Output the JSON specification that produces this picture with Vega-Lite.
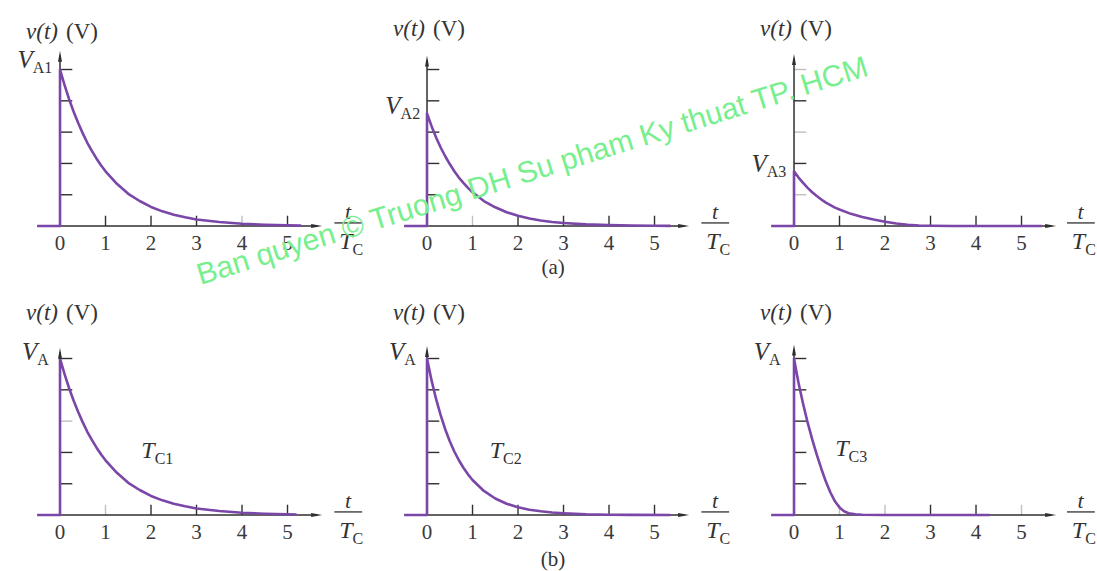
{
  "$schema": "https://vega.github.io/schema/vega-lite/v6.json",
  "padding": 0,
  "autosize": {"type": "pad"},
  "background": "white",
  "config": {"view": {"stroke": null}},
  "data": {
    "values": [
      {"r":"a","c":1,"k":"ax","x":-0.5,"x2":5.66,"y":0,"y2":0},
      {"r":"a","c":1,"k":"ax","x":0,"x2":0,"y":0,"y2":5.45},
      {"r":"a","c":1,"k":"ar","x":5.64,"y":0},
      {"r":"a","c":1,"k":"au","x":0,"y":5.42},
      {"r":"a","c":1,"k":"xt","x":0,"tk":"none"},
      {"r":"a","c":1,"k":"xt","x":1,"tk":"full"},
      {"r":"a","c":1,"k":"xt","x":2,"tk":"full"},
      {"r":"a","c":1,"k":"xt","x":3,"tk":"full"},
      {"r":"a","c":1,"k":"xt","x":4,"tk":"faint"},
      {"r":"a","c":1,"k":"xt","x":5,"tk":"full"},
      {"r":"a","c":1,"k":"yt","y":1,"tk":"full"},
      {"r":"a","c":1,"k":"yt","y":2,"tk":"full"},
      {"r":"a","c":1,"k":"yt","y":3,"tk":"full"},
      {"r":"a","c":1,"k":"yt","y":4,"tk":"full"},
      {"r":"a","c":1,"k":"yt","y":5,"tk":"full"},
      {"r":"a","c":1,"k":"vt","x":0,"y":6.2},
      {"r":"a","c":1,"k":"V","x":-0.6,"y":5.3,"s":"A1"},
      {"r":"a","c":1,"k":"t","x":6.33,"y":0.45},
      {"r":"a","c":1,"k":"fl","x":6.03,"x2":6.64,"y":0.1},
      {"r":"a","c":1,"k":"T","x":6.43,"y":-0.5,"s":"C"},
      {"r":"a","c":1,"k":"c","i":0,"x":-0.5,"y":0},
      {"r":"a","c":1,"k":"c","i":1,"x":0,"y":0},
      {"r":"a","c":1,"k":"c","i":2,"x":0,"y":5.0},
      {"r":"a","c":1,"k":"c","i":3,"x":0.1,"y":4.5},
      {"r":"a","c":1,"k":"c","i":4,"x":0.2,"y":4.05},
      {"r":"a","c":1,"k":"c","i":5,"x":0.3,"y":3.65},
      {"r":"a","c":1,"k":"c","i":6,"x":0.4,"y":3.29},
      {"r":"a","c":1,"k":"c","i":7,"x":0.5,"y":2.96},
      {"r":"a","c":1,"k":"c","i":8,"x":0.6,"y":2.66},
      {"r":"a","c":1,"k":"c","i":9,"x":0.7,"y":2.4},
      {"r":"a","c":1,"k":"c","i":10,"x":0.8,"y":2.16},
      {"r":"a","c":1,"k":"c","i":11,"x":0.9,"y":1.94},
      {"r":"a","c":1,"k":"c","i":12,"x":1.0,"y":1.75},
      {"r":"a","c":1,"k":"c","i":13,"x":1.25,"y":1.35},
      {"r":"a","c":1,"k":"c","i":14,"x":1.5,"y":1.03},
      {"r":"a","c":1,"k":"c","i":15,"x":1.75,"y":0.8},
      {"r":"a","c":1,"k":"c","i":16,"x":2.0,"y":0.61},
      {"r":"a","c":1,"k":"c","i":17,"x":2.25,"y":0.47},
      {"r":"a","c":1,"k":"c","i":18,"x":2.5,"y":0.36},
      {"r":"a","c":1,"k":"c","i":19,"x":2.75,"y":0.28},
      {"r":"a","c":1,"k":"c","i":20,"x":3.0,"y":0.21},
      {"r":"a","c":1,"k":"c","i":21,"x":3.5,"y":0.13},
      {"r":"a","c":1,"k":"c","i":22,"x":4.0,"y":0.075},
      {"r":"a","c":1,"k":"c","i":23,"x":4.5,"y":0.044},
      {"r":"a","c":1,"k":"c","i":24,"x":5.0,"y":0.026},
      {"r":"a","c":1,"k":"c","i":25,"x":5.3,"y":0.015},

      {"r":"a","c":2,"k":"ax","x":-0.5,"x2":5.66,"y":0,"y2":0},
      {"r":"a","c":2,"k":"ax","x":0,"x2":0,"y":0,"y2":5.3},
      {"r":"a","c":2,"k":"ar","x":5.64,"y":0},
      {"r":"a","c":2,"k":"au","x":0,"y":5.27},
      {"r":"a","c":2,"k":"xt","x":0,"tk":"none"},
      {"r":"a","c":2,"k":"xt","x":1,"tk":"faint"},
      {"r":"a","c":2,"k":"xt","x":2,"tk":"full"},
      {"r":"a","c":2,"k":"xt","x":3,"tk":"full"},
      {"r":"a","c":2,"k":"xt","x":4,"tk":"full"},
      {"r":"a","c":2,"k":"xt","x":5,"tk":"full"},
      {"r":"a","c":2,"k":"yt","y":1,"tk":"full"},
      {"r":"a","c":2,"k":"yt","y":2,"tk":"full"},
      {"r":"a","c":2,"k":"yt","y":3,"tk":"full"},
      {"r":"a","c":2,"k":"yt","y":4,"tk":"full"},
      {"r":"a","c":2,"k":"yt","y":5,"tk":"full"},
      {"r":"a","c":2,"k":"vt","x":0,"y":6.3},
      {"r":"a","c":2,"k":"V","x":-0.58,"y":3.84,"s":"A2"},
      {"r":"a","c":2,"k":"t","x":6.33,"y":0.45},
      {"r":"a","c":2,"k":"fl","x":6.03,"x2":6.64,"y":0.1},
      {"r":"a","c":2,"k":"T","x":6.43,"y":-0.5,"s":"C"},
      {"r":"a","c":2,"k":"cap","x":2.77,"y":-1.34,"s":"(a)"},
      {"r":"a","c":2,"k":"c","i":0,"x":-0.5,"y":0},
      {"r":"a","c":2,"k":"c","i":1,"x":0,"y":0},
      {"r":"a","c":2,"k":"c","i":2,"x":0,"y":3.6},
      {"r":"a","c":2,"k":"c","i":3,"x":0.1,"y":3.19},
      {"r":"a","c":2,"k":"c","i":4,"x":0.2,"y":2.83},
      {"r":"a","c":2,"k":"c","i":5,"x":0.3,"y":2.51},
      {"r":"a","c":2,"k":"c","i":6,"x":0.4,"y":2.23},
      {"r":"a","c":2,"k":"c","i":7,"x":0.5,"y":1.98},
      {"r":"a","c":2,"k":"c","i":8,"x":0.6,"y":1.75},
      {"r":"a","c":2,"k":"c","i":9,"x":0.7,"y":1.55},
      {"r":"a","c":2,"k":"c","i":10,"x":0.8,"y":1.38},
      {"r":"a","c":2,"k":"c","i":11,"x":0.9,"y":1.22},
      {"r":"a","c":2,"k":"c","i":12,"x":1.0,"y":1.08},
      {"r":"a","c":2,"k":"c","i":13,"x":1.25,"y":0.8},
      {"r":"a","c":2,"k":"c","i":14,"x":1.5,"y":0.6},
      {"r":"a","c":2,"k":"c","i":15,"x":1.75,"y":0.44},
      {"r":"a","c":2,"k":"c","i":16,"x":2.0,"y":0.33},
      {"r":"a","c":2,"k":"c","i":17,"x":2.25,"y":0.24},
      {"r":"a","c":2,"k":"c","i":18,"x":2.5,"y":0.18},
      {"r":"a","c":2,"k":"c","i":19,"x":2.75,"y":0.13},
      {"r":"a","c":2,"k":"c","i":20,"x":3.0,"y":0.1},
      {"r":"a","c":2,"k":"c","i":21,"x":3.5,"y":0.054},
      {"r":"a","c":2,"k":"c","i":22,"x":4.0,"y":0.03},
      {"r":"a","c":2,"k":"c","i":23,"x":4.5,"y":0.016},
      {"r":"a","c":2,"k":"c","i":24,"x":5.0,"y":0.009},
      {"r":"a","c":2,"k":"c","i":25,"x":5.35,"y":0.005},

      {"r":"a","c":3,"k":"ax","x":-0.5,"x2":5.66,"y":0,"y2":0},
      {"r":"a","c":3,"k":"ax","x":0,"x2":0,"y":0,"y2":5.35},
      {"r":"a","c":3,"k":"ar","x":5.64,"y":0},
      {"r":"a","c":3,"k":"au","x":0,"y":5.32},
      {"r":"a","c":3,"k":"xt","x":0,"tk":"none"},
      {"r":"a","c":3,"k":"xt","x":1,"tk":"full"},
      {"r":"a","c":3,"k":"xt","x":2,"tk":"full"},
      {"r":"a","c":3,"k":"xt","x":3,"tk":"full"},
      {"r":"a","c":3,"k":"xt","x":4,"tk":"full"},
      {"r":"a","c":3,"k":"xt","x":5,"tk":"full"},
      {"r":"a","c":3,"k":"yt","y":1,"tk":"faint"},
      {"r":"a","c":3,"k":"yt","y":2,"tk":"full"},
      {"r":"a","c":3,"k":"yt","y":3,"tk":"faint"},
      {"r":"a","c":3,"k":"yt","y":4,"tk":"full"},
      {"r":"a","c":3,"k":"yt","y":5,"tk":"faint"},
      {"r":"a","c":3,"k":"vt","x":0,"y":6.3},
      {"r":"a","c":3,"k":"V","x":-0.6,"y":1.97,"s":"A3"},
      {"r":"a","c":3,"k":"t","x":6.3,"y":0.45},
      {"r":"a","c":3,"k":"fl","x":6.0,"x2":6.61,"y":0.1},
      {"r":"a","c":3,"k":"T","x":6.4,"y":-0.5,"s":"C"},
      {"r":"a","c":3,"k":"c","i":0,"x":-0.5,"y":0},
      {"r":"a","c":3,"k":"c","i":1,"x":0,"y":0},
      {"r":"a","c":3,"k":"c","i":2,"x":0,"y":1.75},
      {"r":"a","c":3,"k":"c","i":3,"x":0.1,"y":1.55},
      {"r":"a","c":3,"k":"c","i":4,"x":0.2,"y":1.38},
      {"r":"a","c":3,"k":"c","i":5,"x":0.3,"y":1.22},
      {"r":"a","c":3,"k":"c","i":6,"x":0.4,"y":1.08},
      {"r":"a","c":3,"k":"c","i":7,"x":0.5,"y":0.96},
      {"r":"a","c":3,"k":"c","i":8,"x":0.6,"y":0.85},
      {"r":"a","c":3,"k":"c","i":9,"x":0.7,"y":0.75},
      {"r":"a","c":3,"k":"c","i":10,"x":0.8,"y":0.67},
      {"r":"a","c":3,"k":"c","i":11,"x":0.9,"y":0.59},
      {"r":"a","c":3,"k":"c","i":12,"x":1.0,"y":0.53},
      {"r":"a","c":3,"k":"c","i":13,"x":1.25,"y":0.39},
      {"r":"a","c":3,"k":"c","i":14,"x":1.5,"y":0.29},
      {"r":"a","c":3,"k":"c","i":15,"x":1.75,"y":0.21},
      {"r":"a","c":3,"k":"c","i":16,"x":2.0,"y":0.14},
      {"r":"a","c":3,"k":"c","i":17,"x":2.25,"y":0.08},
      {"r":"a","c":3,"k":"c","i":18,"x":2.5,"y":0.04},
      {"r":"a","c":3,"k":"c","i":19,"x":2.75,"y":0.02},
      {"r":"a","c":3,"k":"c","i":20,"x":3.0,"y":0.01},
      {"r":"a","c":3,"k":"c","i":21,"x":3.5,"y":0.004},
      {"r":"a","c":3,"k":"c","i":22,"x":4.5,"y":0},
      {"r":"a","c":3,"k":"c","i":23,"x":5.45,"y":0},

      {"r":"b","c":1,"k":"ax","x":-0.5,"x2":5.66,"y":0,"y2":0},
      {"r":"b","c":1,"k":"ax","x":0,"x2":0,"y":0,"y2":5.2},
      {"r":"b","c":1,"k":"ar","x":5.64,"y":0},
      {"r":"b","c":1,"k":"au","x":0,"y":5.17},
      {"r":"b","c":1,"k":"xt","x":0,"tk":"none"},
      {"r":"b","c":1,"k":"xt","x":1,"tk":"faint"},
      {"r":"b","c":1,"k":"xt","x":2,"tk":"full"},
      {"r":"b","c":1,"k":"xt","x":3,"tk":"full"},
      {"r":"b","c":1,"k":"xt","x":4,"tk":"full"},
      {"r":"b","c":1,"k":"xt","x":5,"tk":"full"},
      {"r":"b","c":1,"k":"yt","y":1,"tk":"full"},
      {"r":"b","c":1,"k":"yt","y":2,"tk":"full"},
      {"r":"b","c":1,"k":"yt","y":3,"tk":"faint"},
      {"r":"b","c":1,"k":"yt","y":4,"tk":"full"},
      {"r":"b","c":1,"k":"yt","y":5,"tk":"full"},
      {"r":"b","c":1,"k":"vt","x":0,"y":6.45},
      {"r":"b","c":1,"k":"V","x":-0.5,"y":5.2,"s":"A"},
      {"r":"b","c":1,"k":"T","x":2.08,"y":2.05,"s":"C1"},
      {"r":"b","c":1,"k":"t","x":6.33,"y":0.45},
      {"r":"b","c":1,"k":"fl","x":6.03,"x2":6.64,"y":0.1},
      {"r":"b","c":1,"k":"T","x":6.43,"y":-0.5,"s":"C"},
      {"r":"b","c":1,"k":"c","i":0,"x":-0.5,"y":0},
      {"r":"b","c":1,"k":"c","i":1,"x":0,"y":0},
      {"r":"b","c":1,"k":"c","i":2,"x":0,"y":5.0},
      {"r":"b","c":1,"k":"c","i":3,"x":0.1,"y":4.5},
      {"r":"b","c":1,"k":"c","i":4,"x":0.2,"y":4.05},
      {"r":"b","c":1,"k":"c","i":5,"x":0.3,"y":3.65},
      {"r":"b","c":1,"k":"c","i":6,"x":0.4,"y":3.29},
      {"r":"b","c":1,"k":"c","i":7,"x":0.5,"y":2.96},
      {"r":"b","c":1,"k":"c","i":8,"x":0.6,"y":2.66},
      {"r":"b","c":1,"k":"c","i":9,"x":0.7,"y":2.4},
      {"r":"b","c":1,"k":"c","i":10,"x":0.8,"y":2.16},
      {"r":"b","c":1,"k":"c","i":11,"x":0.9,"y":1.94},
      {"r":"b","c":1,"k":"c","i":12,"x":1.0,"y":1.75},
      {"r":"b","c":1,"k":"c","i":13,"x":1.25,"y":1.35},
      {"r":"b","c":1,"k":"c","i":14,"x":1.5,"y":1.03},
      {"r":"b","c":1,"k":"c","i":15,"x":1.75,"y":0.8},
      {"r":"b","c":1,"k":"c","i":16,"x":2.0,"y":0.61},
      {"r":"b","c":1,"k":"c","i":17,"x":2.25,"y":0.47},
      {"r":"b","c":1,"k":"c","i":18,"x":2.5,"y":0.36},
      {"r":"b","c":1,"k":"c","i":19,"x":2.75,"y":0.28},
      {"r":"b","c":1,"k":"c","i":20,"x":3.0,"y":0.21},
      {"r":"b","c":1,"k":"c","i":21,"x":3.5,"y":0.13},
      {"r":"b","c":1,"k":"c","i":22,"x":4.0,"y":0.075},
      {"r":"b","c":1,"k":"c","i":23,"x":4.5,"y":0.044},
      {"r":"b","c":1,"k":"c","i":24,"x":5.0,"y":0.026},
      {"r":"b","c":1,"k":"c","i":25,"x":5.2,"y":0.02},

      {"r":"b","c":2,"k":"ax","x":-0.5,"x2":5.66,"y":0,"y2":0},
      {"r":"b","c":2,"k":"ax","x":0,"x2":0,"y":0,"y2":5.25},
      {"r":"b","c":2,"k":"ar","x":5.64,"y":0},
      {"r":"b","c":2,"k":"au","x":0,"y":5.22},
      {"r":"b","c":2,"k":"xt","x":0,"tk":"none"},
      {"r":"b","c":2,"k":"xt","x":1,"tk":"full"},
      {"r":"b","c":2,"k":"xt","x":2,"tk":"full"},
      {"r":"b","c":2,"k":"xt","x":3,"tk":"full"},
      {"r":"b","c":2,"k":"xt","x":4,"tk":"full"},
      {"r":"b","c":2,"k":"xt","x":5,"tk":"full"},
      {"r":"b","c":2,"k":"yt","y":1,"tk":"full"},
      {"r":"b","c":2,"k":"yt","y":2,"tk":"full"},
      {"r":"b","c":2,"k":"yt","y":3,"tk":"full"},
      {"r":"b","c":2,"k":"yt","y":4,"tk":"full"},
      {"r":"b","c":2,"k":"yt","y":5,"tk":"full"},
      {"r":"b","c":2,"k":"vt","x":0,"y":6.45},
      {"r":"b","c":2,"k":"V","x":-0.5,"y":5.2,"s":"A"},
      {"r":"b","c":2,"k":"T","x":1.67,"y":2.05,"s":"C2"},
      {"r":"b","c":2,"k":"t","x":6.33,"y":0.45},
      {"r":"b","c":2,"k":"fl","x":6.03,"x2":6.64,"y":0.1},
      {"r":"b","c":2,"k":"T","x":6.43,"y":-0.5,"s":"C"},
      {"r":"b","c":2,"k":"cap","x":2.77,"y":-1.44,"s":"(b)"},
      {"r":"b","c":2,"k":"c","i":0,"x":-0.5,"y":0},
      {"r":"b","c":2,"k":"c","i":1,"x":0,"y":0},
      {"r":"b","c":2,"k":"c","i":2,"x":0,"y":5.0},
      {"r":"b","c":2,"k":"c","i":3,"x":0.1,"y":4.3},
      {"r":"b","c":2,"k":"c","i":4,"x":0.2,"y":3.7},
      {"r":"b","c":2,"k":"c","i":5,"x":0.3,"y":3.19},
      {"r":"b","c":2,"k":"c","i":6,"x":0.4,"y":2.74},
      {"r":"b","c":2,"k":"c","i":7,"x":0.5,"y":2.36},
      {"r":"b","c":2,"k":"c","i":8,"x":0.6,"y":2.03},
      {"r":"b","c":2,"k":"c","i":9,"x":0.7,"y":1.75},
      {"r":"b","c":2,"k":"c","i":10,"x":0.8,"y":1.51},
      {"r":"b","c":2,"k":"c","i":11,"x":0.9,"y":1.3},
      {"r":"b","c":2,"k":"c","i":12,"x":1.0,"y":1.12},
      {"r":"b","c":2,"k":"c","i":13,"x":1.25,"y":0.77},
      {"r":"b","c":2,"k":"c","i":14,"x":1.5,"y":0.53},
      {"r":"b","c":2,"k":"c","i":15,"x":1.75,"y":0.36},
      {"r":"b","c":2,"k":"c","i":16,"x":2.0,"y":0.25},
      {"r":"b","c":2,"k":"c","i":17,"x":2.25,"y":0.17},
      {"r":"b","c":2,"k":"c","i":18,"x":2.5,"y":0.12},
      {"r":"b","c":2,"k":"c","i":19,"x":2.75,"y":0.08},
      {"r":"b","c":2,"k":"c","i":20,"x":3.0,"y":0.06},
      {"r":"b","c":2,"k":"c","i":21,"x":3.5,"y":0.025},
      {"r":"b","c":2,"k":"c","i":22,"x":4.0,"y":0.012},
      {"r":"b","c":2,"k":"c","i":23,"x":4.5,"y":0.006},
      {"r":"b","c":2,"k":"c","i":24,"x":5.35,"y":0},

      {"r":"b","c":3,"k":"ax","x":-0.5,"x2":5.66,"y":0,"y2":0},
      {"r":"b","c":3,"k":"ax","x":0,"x2":0,"y":0,"y2":5.3},
      {"r":"b","c":3,"k":"ar","x":5.64,"y":0},
      {"r":"b","c":3,"k":"au","x":0,"y":5.27},
      {"r":"b","c":3,"k":"xt","x":0,"tk":"none"},
      {"r":"b","c":3,"k":"xt","x":1,"tk":"faint"},
      {"r":"b","c":3,"k":"xt","x":2,"tk":"faint"},
      {"r":"b","c":3,"k":"xt","x":3,"tk":"full"},
      {"r":"b","c":3,"k":"xt","x":4,"tk":"full"},
      {"r":"b","c":3,"k":"xt","x":5,"tk":"faint"},
      {"r":"b","c":3,"k":"yt","y":1,"tk":"full"},
      {"r":"b","c":3,"k":"yt","y":2,"tk":"full"},
      {"r":"b","c":3,"k":"yt","y":3,"tk":"full"},
      {"r":"b","c":3,"k":"yt","y":4,"tk":"full"},
      {"r":"b","c":3,"k":"yt","y":5,"tk":"full"},
      {"r":"b","c":3,"k":"vt","x":0,"y":6.45},
      {"r":"b","c":3,"k":"V","x":-0.55,"y":5.2,"s":"A"},
      {"r":"b","c":3,"k":"T","x":1.2,"y":2.1,"s":"C3"},
      {"r":"b","c":3,"k":"t","x":6.3,"y":0.45},
      {"r":"b","c":3,"k":"fl","x":6.0,"x2":6.61,"y":0.1},
      {"r":"b","c":3,"k":"T","x":6.4,"y":-0.5,"s":"C"},
      {"r":"b","c":3,"k":"c","i":0,"x":-0.5,"y":0},
      {"r":"b","c":3,"k":"c","i":1,"x":0,"y":0},
      {"r":"b","c":3,"k":"c","i":2,"x":0,"y":5.0},
      {"r":"b","c":3,"k":"c","i":3,"x":0.05,"y":4.6},
      {"r":"b","c":3,"k":"c","i":4,"x":0.1,"y":4.22},
      {"r":"b","c":3,"k":"c","i":5,"x":0.2,"y":3.55},
      {"r":"b","c":3,"k":"c","i":6,"x":0.3,"y":2.95},
      {"r":"b","c":3,"k":"c","i":7,"x":0.4,"y":2.42},
      {"r":"b","c":3,"k":"c","i":8,"x":0.5,"y":1.93},
      {"r":"b","c":3,"k":"c","i":9,"x":0.6,"y":1.48},
      {"r":"b","c":3,"k":"c","i":10,"x":0.7,"y":1.07},
      {"r":"b","c":3,"k":"c","i":11,"x":0.8,"y":0.72},
      {"r":"b","c":3,"k":"c","i":12,"x":0.9,"y":0.44},
      {"r":"b","c":3,"k":"c","i":13,"x":1.0,"y":0.24},
      {"r":"b","c":3,"k":"c","i":14,"x":1.1,"y":0.12},
      {"r":"b","c":3,"k":"c","i":15,"x":1.2,"y":0.06},
      {"r":"b","c":3,"k":"c","i":16,"x":1.35,"y":0.025},
      {"r":"b","c":3,"k":"c","i":17,"x":1.5,"y":0.01},
      {"r":"b","c":3,"k":"c","i":18,"x":2.0,"y":0},
      {"r":"b","c":3,"k":"c","i":19,"x":4.3,"y":0},
      {"r":"b","c":3,"k":"wm","x":-5.69,"y":10.7,"s":"Ban quyen © Truong DH Su pham Ky thuat TP. HCM"}
    ]
  },
  "facet": {
    "row": {"field": "r", "type": "nominal", "header": null},
    "column": {"field": "c", "type": "ordinal", "header": null}
  },
  "spacing": {"row": 0, "column": 1},
  "bounds": "flush",
  "spec": {
    "width": 366,
    "height": 289,
    "layer": [
      {
        "transform": [{"filter": "datum.k === 'ax'"}],
        "mark": {"type": "rule", "color": "#2f2f2f", "strokeWidth": 1.5},
        "encoding": {
          "x": {"field": "x", "type": "quantitative", "scale": {"domain": [-1.319, 6.725], "nice": false, "zero": false}, "axis": null},
          "x2": {"field": "x2"},
          "y": {"field": "y", "type": "quantitative", "scale": {"domain": [-2.01, 7.22], "nice": false, "zero": false}, "axis": null},
          "y2": {"field": "y2"}
        }
      },
      {
        "transform": [{"filter": "datum.k === 'xt' && datum.tk !== 'none'"}],
        "mark": {"type": "rule", "color": "#2f2f2f", "strokeWidth": 1.4},
        "encoding": {
          "x": {"field": "x", "type": "quantitative", "scale": {"domain": [-1.319, 6.725], "nice": false, "zero": false}, "axis": null},
          "y": {"datum": 0, "type": "quantitative", "scale": {"domain": [-2.01, 7.22], "nice": false, "zero": false}, "axis": null},
          "y2": {"datum": 0.33},
          "opacity": {"field": "tk", "type": "nominal", "scale": {"domain": ["full", "faint"], "range": [1, 0.3]}, "legend": null}
        }
      },
      {
        "transform": [{"filter": "datum.k === 'yt'"}],
        "mark": {"type": "rule", "color": "#2f2f2f", "strokeWidth": 1.4},
        "encoding": {
          "y": {"field": "y", "type": "quantitative", "scale": {"domain": [-2.01, 7.22], "nice": false, "zero": false}, "axis": null},
          "x": {"datum": 0, "type": "quantitative", "scale": {"domain": [-1.319, 6.725], "nice": false, "zero": false}, "axis": null},
          "x2": {"datum": 0.27},
          "opacity": {"field": "tk", "type": "nominal", "scale": {"domain": ["full", "faint"], "range": [1, 0.3]}, "legend": null}
        }
      },
      {
        "transform": [{"filter": "datum.k === 'c'"}],
        "mark": {"type": "line", "color": "#7a47a8", "strokeWidth": 2.6, "strokeJoin": "round"},
        "encoding": {
          "x": {"field": "x", "type": "quantitative", "scale": {"domain": [-1.319, 6.725], "nice": false, "zero": false}, "axis": null},
          "y": {"field": "y", "type": "quantitative", "scale": {"domain": [-2.01, 7.22], "nice": false, "zero": false}, "axis": null},
          "order": {"field": "i", "type": "quantitative"}
        }
      },
      {
        "transform": [{"filter": "datum.k === 'ar'"}],
        "mark": {"type": "point", "shape": "M-1,-0.36L1,0L-1,0.36Z", "size": 121, "filled": true, "color": "#2f2f2f", "opacity": 1},
        "encoding": {
          "x": {"field": "x", "type": "quantitative", "scale": {"domain": [-1.319, 6.725], "nice": false, "zero": false}, "axis": null},
          "y": {"field": "y", "type": "quantitative", "scale": {"domain": [-2.01, 7.22], "nice": false, "zero": false}, "axis": null}
        }
      },
      {
        "transform": [{"filter": "datum.k === 'au'"}],
        "mark": {"type": "point", "shape": "M-0.36,1L0,-1L0.36,1Z", "size": 121, "filled": true, "color": "#2f2f2f", "opacity": 1},
        "encoding": {
          "x": {"field": "x", "type": "quantitative", "scale": {"domain": [-1.319, 6.725], "nice": false, "zero": false}, "axis": null},
          "y": {"field": "y", "type": "quantitative", "scale": {"domain": [-2.01, 7.22], "nice": false, "zero": false}, "axis": null}
        }
      },
      {
        "transform": [{"filter": "datum.k === 'fl'"}],
        "mark": {"type": "rule", "color": "#2f2f2f", "strokeWidth": 1.3},
        "encoding": {
          "x": {"field": "x", "type": "quantitative", "scale": {"domain": [-1.319, 6.725], "nice": false, "zero": false}, "axis": null},
          "x2": {"field": "x2"},
          "y": {"field": "y", "type": "quantitative", "scale": {"domain": [-2.01, 7.22], "nice": false, "zero": false}, "axis": null}
        }
      },
      {
        "transform": [{"filter": "datum.k === 'xt'"}],
        "mark": {"type": "text", "font": "Liberation Serif", "fontSize": 21, "color": "#3a3a3a", "align": "center", "baseline": "middle"},
        "encoding": {
          "x": {"field": "x", "type": "quantitative", "scale": {"domain": [-1.319, 6.725], "nice": false, "zero": false}, "axis": null},
          "y": {"datum": -0.56, "type": "quantitative", "scale": {"domain": [-2.01, 7.22], "nice": false, "zero": false}, "axis": null},
          "text": {"field": "x", "type": "quantitative", "format": "d"}
        }
      },
      {
        "transform": [{"filter": "datum.k === 'vt'"}],
        "mark": {"type": "text", "text": "v(t)", "font": "Liberation Serif", "fontStyle": "italic", "fontSize": 23, "color": "#333333", "align": "right", "baseline": "middle", "dx": -2},
        "encoding": {
          "x": {"field": "x", "type": "quantitative", "scale": {"domain": [-1.319, 6.725], "nice": false, "zero": false}, "axis": null},
          "y": {"field": "y", "type": "quantitative", "scale": {"domain": [-2.01, 7.22], "nice": false, "zero": false}, "axis": null}
        }
      },
      {
        "transform": [{"filter": "datum.k === 'vt'"}],
        "mark": {"type": "text", "text": "(V)", "font": "Liberation Serif", "fontSize": 23, "color": "#333333", "align": "left", "baseline": "middle", "dx": 6},
        "encoding": {
          "x": {"field": "x", "type": "quantitative", "scale": {"domain": [-1.319, 6.725], "nice": false, "zero": false}, "axis": null},
          "y": {"field": "y", "type": "quantitative", "scale": {"domain": [-2.01, 7.22], "nice": false, "zero": false}, "axis": null}
        }
      },
      {
        "transform": [{"filter": "datum.k === 'V'"}],
        "mark": {"type": "text", "text": "V", "font": "Liberation Serif", "fontStyle": "italic", "fontSize": 25, "color": "#333333", "align": "right", "baseline": "middle"},
        "encoding": {
          "x": {"field": "x", "type": "quantitative", "scale": {"domain": [-1.319, 6.725], "nice": false, "zero": false}, "axis": null},
          "y": {"field": "y", "type": "quantitative", "scale": {"domain": [-2.01, 7.22], "nice": false, "zero": false}, "axis": null}
        }
      },
      {
        "transform": [{"filter": "datum.k === 'V' || datum.k === 'T'"}],
        "mark": {"type": "text", "font": "Liberation Serif", "fontSize": 16, "color": "#333333", "align": "left", "baseline": "middle", "dx": 0, "dy": 8},
        "encoding": {
          "x": {"field": "x", "type": "quantitative", "scale": {"domain": [-1.319, 6.725], "nice": false, "zero": false}, "axis": null},
          "y": {"field": "y", "type": "quantitative", "scale": {"domain": [-2.01, 7.22], "nice": false, "zero": false}, "axis": null},
          "text": {"field": "s", "type": "nominal"}
        }
      },
      {
        "transform": [{"filter": "datum.k === 'T'"}],
        "mark": {"type": "text", "text": "T", "font": "Liberation Serif", "fontStyle": "italic", "fontSize": 24, "color": "#333333", "align": "right", "baseline": "middle"},
        "encoding": {
          "x": {"field": "x", "type": "quantitative", "scale": {"domain": [-1.319, 6.725], "nice": false, "zero": false}, "axis": null},
          "y": {"field": "y", "type": "quantitative", "scale": {"domain": [-2.01, 7.22], "nice": false, "zero": false}, "axis": null}
        }
      },
      {
        "transform": [{"filter": "datum.k === 't'"}],
        "mark": {"type": "text", "text": "t", "font": "Liberation Serif", "fontStyle": "italic", "fontSize": 22, "color": "#333333", "align": "center", "baseline": "middle"},
        "encoding": {
          "x": {"field": "x", "type": "quantitative", "scale": {"domain": [-1.319, 6.725], "nice": false, "zero": false}, "axis": null},
          "y": {"field": "y", "type": "quantitative", "scale": {"domain": [-2.01, 7.22], "nice": false, "zero": false}, "axis": null}
        }
      },
      {
        "transform": [{"filter": "datum.k === 'cap'"}],
        "mark": {"type": "text", "font": "Liberation Serif", "fontSize": 21, "color": "#333333", "align": "center", "baseline": "middle"},
        "encoding": {
          "x": {"field": "x", "type": "quantitative", "scale": {"domain": [-1.319, 6.725], "nice": false, "zero": false}, "axis": null},
          "y": {"field": "y", "type": "quantitative", "scale": {"domain": [-2.01, 7.22], "nice": false, "zero": false}, "axis": null},
          "text": {"field": "s", "type": "nominal"}
        }
      },
      {
        "transform": [{"filter": "datum.k === 'wm'"}],
        "mark": {"type": "text", "font": "Liberation Sans", "fontSize": 30, "color": "#78ef8e", "align": "center", "baseline": "alphabetic", "angle": 342.6},
        "encoding": {
          "x": {"field": "x", "type": "quantitative", "scale": {"domain": [-1.319, 6.725], "nice": false, "zero": false}, "axis": null},
          "y": {"field": "y", "type": "quantitative", "scale": {"domain": [-2.01, 7.22], "nice": false, "zero": false}, "axis": null},
          "text": {"field": "s", "type": "nominal"}
        }
      }
    ]
  }
}
